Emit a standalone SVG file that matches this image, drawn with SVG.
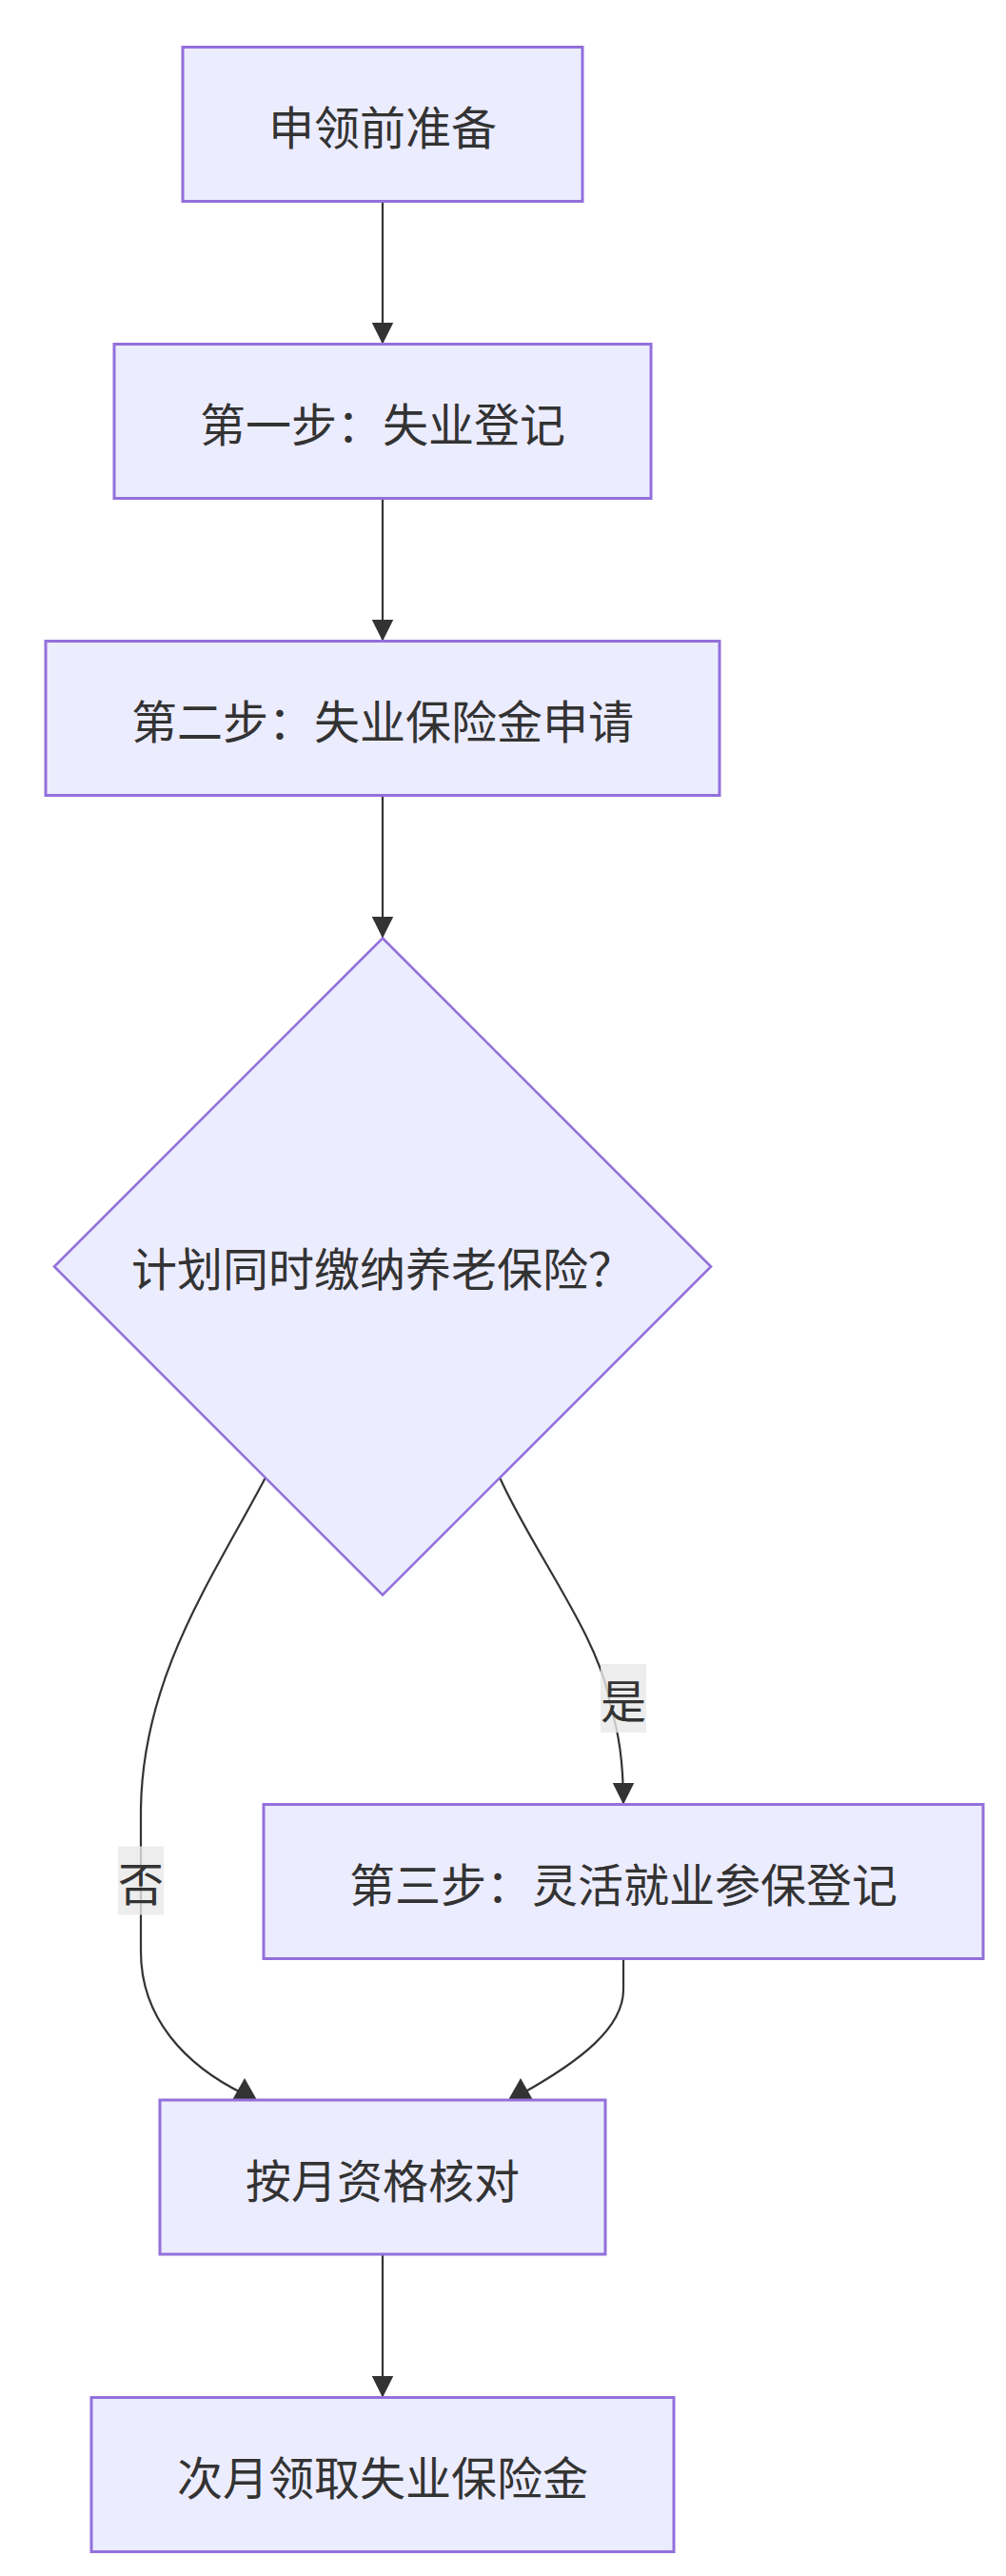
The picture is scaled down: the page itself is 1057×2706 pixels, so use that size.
<svg xmlns="http://www.w3.org/2000/svg" width="1057" height="2706" viewBox="0 0 1057 2706">
<style>
.node rect,.node polygon{fill:#ECECFF;stroke:#9370DB;stroke-width:3}
.node polygon{stroke-width:2.6}
.lbl{font-family:"Noto Sans CJK SC","Noto Sans",sans-serif;font-size:48px;fill:#333333;text-anchor:middle;dominant-baseline:central}
.edge{fill:none;stroke:#333333;stroke-width:2.2}
.elbg{fill:rgba(232,232,232,0.8)}
</style>
<defs>
<marker id="arrow" markerUnits="userSpaceOnUse" markerWidth="24" markerHeight="24" refX="23" refY="11.5" orient="auto"><path d="M0,0 L23,11.5 L0,23 z" fill="#333333"/></marker>
<marker id="arrowUp" markerUnits="userSpaceOnUse" markerWidth="24" markerHeight="27" refX="6" refY="13" orient="270"><path d="M0,0 L23,13 L0,26 z" fill="#333333"/></marker>
</defs>
<rect width="1057" height="2706" fill="#ffffff"/>
<g id="connectors">
<path class="edge" d="M402,211.5 L402,361.5" marker-end="url(#arrow)"/>
<path class="edge" d="M402,523.5 L402,673.5" marker-end="url(#arrow)"/>
<path class="edge" d="M402,835.5 L402,985.5" marker-end="url(#arrow)"/>
<path class="edge" d="M525,1552 C560,1630 630,1720 641,1790 C650,1820 655,1850 655,1895.5" marker-end="url(#arrow)"/>
<path class="edge" d="M279,1552 C225,1655 150,1760 148,1900 L148,2050 C148,2120 195,2170 257,2200" marker-end="url(#arrowUp)"/>
<path class="edge" d="M655,2057.5 L655,2090 C655,2130 610,2165 547,2200" marker-end="url(#arrowUp)"/>
<path class="edge" d="M402,2368 L402,2518.5" marker-end="url(#arrow)"/>
</g>
<g id="edge-label-yes">
<rect class="elbg" x="631" y="1748" width="48" height="72"/>
<text class="lbl" x="655" y="1784">是</text>
</g>
<g id="edge-label-no">
<rect class="elbg" x="124" y="1939.5" width="48" height="72"/>
<text class="lbl" x="148" y="1975.5">否</text>
</g>
<g id="node-prep" class="node">
<rect x="192" y="49.5" width="420" height="162"/>
<text class="lbl" x="402" y="131">申领前准备</text>
</g>
<g id="node-step1" class="node">
<rect x="120" y="361.5" width="564" height="162"/>
<text class="lbl" x="402" y="443">第一步：失业登记</text>
</g>
<g id="node-step2" class="node">
<rect x="48" y="673.5" width="708" height="162"/>
<text class="lbl" x="402" y="755">第二步：失业保险金申请</text>
</g>
<g id="node-decision" class="node">
<polygon points="402,985.5 747,1330.5 402,1675.5 57,1330.5"/>
<text class="lbl" x="402" y="1330">计划同时缴纳养老保险？</text>
</g>
<g id="node-step3" class="node">
<rect x="277" y="1895.5" width="756" height="162"/>
<text class="lbl" x="655" y="1977">第三步：灵活就业参保登记</text>
</g>
<g id="node-check" class="node">
<rect x="168" y="2206" width="468" height="162"/>
<text class="lbl" x="402" y="2288">按月资格核对</text>
</g>
<g id="node-receive" class="node">
<rect x="96" y="2518.5" width="612" height="162"/>
<text class="lbl" x="402" y="2600">次月领取失业保险金</text>
</g>
</svg>
